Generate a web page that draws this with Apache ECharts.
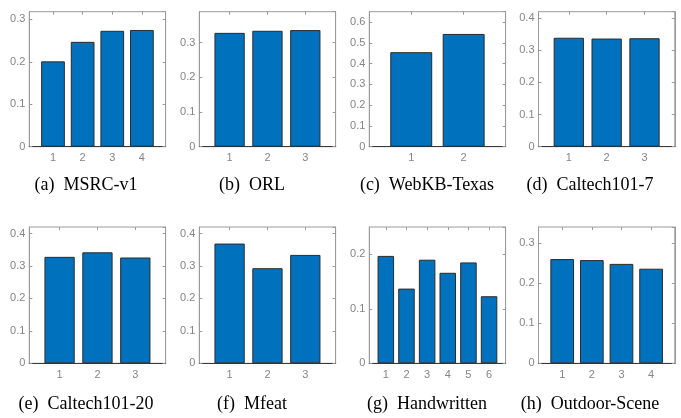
<!DOCTYPE html>
<html lang="en">
<head>
  <meta charset="UTF-8">
  <title>Bar panels</title>
  <style>
    html, body { margin: 0; padding: 0; background: #fff; }
  </style>
</head>
<body>
  <div id="main" style="width: 681px;height:418px;"></div>

  <script src="https://cdn.jsdelivr.net/npm/echarts@6/dist/echarts.min.js"></script>
  <script>
    const myChart = echarts.init(document.getElementById('main'));

    // one caption per panel
    const captions = ['(a)  MSRC-v1', '(b)  ORL', '(c)  WebKB-Texas', '(d)  Caltech101-7',
      '(e)  Caltech101-20', '(f)  Mfeat', '(g)  Handwritten', '(h)  Outdoor-Scene'];

    // bar heights
    const msrc = [0.201, 0.247, 0.273, 0.275];
    const orl = [0.328, 0.334, 0.336];
    const webkb = [0.455, 0.543];
    const caltech7 = [0.339, 0.3365, 0.3375];
    const caltech20 = [0.328, 0.342, 0.326];
    const mfeat = [0.369, 0.293, 0.334];
    const handwritten = [0.197, 0.137, 0.190, 0.166, 0.185, 0.123];
    const outdoor = [0.260, 0.2575, 0.248, 0.236];
    const panelValues = [msrc, orl, webkb, caltech7, caltech20, mfeat, handwritten, outdoor];

    // y axis top of each panel, and tick step
    const yMax = [0.318, 0.389, 0.65, 0.42, 0.42, 0.42, 0.25, 0.34];
    const yStep = 0.1;

    // layout of the boxes
    const colLeft = [29.3, 199.3, 369.3, 538.5];
    const boxW = 136.3;
    const rowTop = [11.7, 227];
    const boxH = [135, 136.3];
    const capX = [86, 252, 427, 590];
    const capY = [185, 404];

    const labelFont = { color: '#858585', fontSize: 11, fontFamily: 'Liberation Sans, Arial, sans-serif' };
    const frameColor = '#9a9a9a';

    const grid = [], xAxis = [], yAxis = [], series = [], graphic = [];

    panelValues.forEach(function (vals, i) {
      const col = i % 4, row = Math.floor(i / 4);
      const n = vals.length;
      const u = boxW / (n + 0.6);
      const L = colLeft[col], T = rowTop[row], H = boxH[row];
      const cats = vals.map(function (v, k) { return String(k + 1); });

      // frame grid
      const gA = grid.length;
      grid.push({ left: L, top: T, width: boxW, height: H, show: true,
        borderColor: frameColor, borderWidth: 1 });
      // bar grid (inner, xlim 0.2 .. n+0.8)
      const gB = grid.length;
      grid.push({ left: L + 0.3 * u, top: T, width: n * u, height: H });

      // baseline across the frame
      xAxis.push({ type: 'value', gridIndex: gA, min: 0, max: 1,
        axisLine: { show: true, onZero: false, lineStyle: { color: '#3a3a3a', width: 1.2 } },
        axisTick: { show: false }, axisLabel: { show: false }, splitLine: { show: false } });
      const xBottom = xAxis.length;
      xAxis.push({ type: 'category', gridIndex: gB, data: cats, position: 'bottom',
        axisLine: { show: false }, axisTick: { show: false },
        axisLabel: Object.assign({ margin: 6 }, labelFont) });
      xAxis.push({ type: 'category', gridIndex: gB, data: cats, position: 'top',
        axisLine: { show: false },
        axisTick: { show: true, inside: true, alignWithLabel: true, length: 3,
          lineStyle: { color: frameColor } },
        axisLabel: { show: false } });

      yAxis.push({ type: 'value', gridIndex: gA, min: 0, max: yMax[i], interval: yStep,
        position: 'left',
        axisLine: { show: true, lineStyle: { color: frameColor } },
        axisTick: { show: true, inside: true, length: 3, lineStyle: { color: frameColor } },
        axisLabel: Object.assign({ margin: 4, showMaxLabel: false }, labelFont),
        splitLine: { show: false } });
      yAxis.push({ type: 'value', gridIndex: gA, min: 0, max: yMax[i], interval: yStep,
        position: 'right',
        axisLine: { show: true, lineStyle: { color: frameColor } },
        axisTick: { show: true, inside: true, length: 3, lineStyle: { color: frameColor } },
        axisLabel: { show: false }, splitLine: { show: false } });
      const yBar = yAxis.length;
      yAxis.push({ type: 'value', gridIndex: gB, min: 0, max: yMax[i], show: false });

      series.push({
        type: 'bar',
        xAxisIndex: xBottom,
        yAxisIndex: yBar,
        data: vals,
        barCategoryGap: '20%',
        itemStyle: { color: '#0072BD', borderColor: '#2b2b2b', borderWidth: 1 },
        silent: true
      });

      graphic.push({
        type: 'text',
        x: capX[col],
        y: capY[row],
        style: {
          text: captions[i],
          fill: '#000',
          fontSize: 18,
          fontFamily: 'Liberation Serif, Times New Roman, serif',
          textAlign: 'center',
          textVerticalAlign: 'middle'
        }
      });
    });

    const options = {
      animation: false,
      grid: grid,
      xAxis: xAxis,
      yAxis: yAxis,
      series: series,
      graphic: graphic
    };

    myChart.setOption(options);
  </script>
</body>
</html>
